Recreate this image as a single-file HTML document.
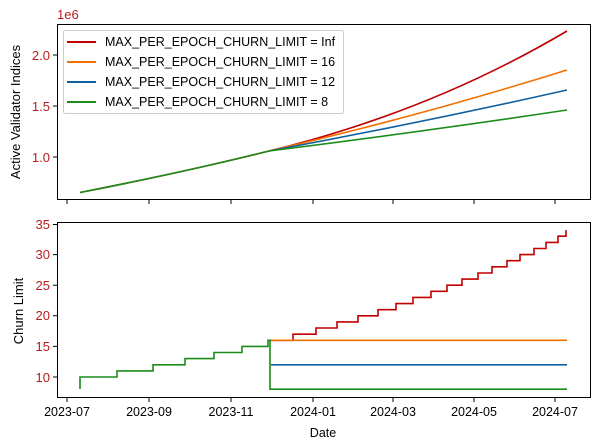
<!DOCTYPE html>
<html><head><style>body{margin:0;background:#fff}svg{display:block}text{font-family:"Liberation Sans",sans-serif}</style></head><body>
<svg width="600" height="448" xmlns="http://www.w3.org/2000/svg">
<rect width="600" height="448" fill="#fff"/>
<g fill="none" stroke-width="1.6">
<path d="M80,192.5 Q185,172 269,151" stroke="#c00000"/>
<path d="M269,151 Q430,112 567,31" stroke="#c00000"/>
<path d="M269,151 Q420,116 567,70" stroke="#f07000"/>
<path d="M269,151 Q420,123 567,90" stroke="#1060a0"/>
<path d="M269,151 Q420,132 567,110" stroke="#1a8c1a"/>
<path d="M80,192.5 Q185,172 269,151" stroke="#1a8c1a"/>
</g>
<rect x="57.5" y="24.5" width="533" height="175" fill="none" stroke="#000" stroke-width="1"/>
<g stroke="#000" stroke-width="1">
<path d="M67,200v4M149,200v4M231,200v4M313,200v4M393,200v4M474,200v4M555,200v4"/>
<path d="M57,55h-4M57,106h-4M57,157h-4"/>
</g>
<g fill="#b81c1c" font-size="13" text-anchor="end">
<text x="50" y="60">2.0</text><text x="50" y="111">1.5</text><text x="50" y="162">1.0</text>
</g>
<text x="57" y="19" fill="#b81c1c" font-size="13">1e6</text>
<text transform="translate(20,112) rotate(-90)" font-size="13" text-anchor="middle">Active Validator Indices</text>
<rect x="63.5" y="30.5" width="280" height="83" rx="2" fill="#fff" stroke="#ccc"/>
<g stroke-width="2">
<path d="M67,42h29" stroke="#c00000"/><path d="M67,62h29" stroke="#f07000"/>
<path d="M67,82h29" stroke="#1060a0"/><path d="M67,102h29" stroke="#1a8c1a"/>
</g>
<g font-size="12.5">
<text x="105" y="46">MAX_PER_EPOCH_CHURN_LIMIT = Inf</text>
<text x="105" y="66">MAX_PER_EPOCH_CHURN_LIMIT = 16</text>
<text x="105" y="86">MAX_PER_EPOCH_CHURN_LIMIT = 12</text>
<text x="105" y="106">MAX_PER_EPOCH_CHURN_LIMIT = 8</text>
</g>
<g fill="none" stroke-width="1.6">
<path d="M269,340.3 H293 V334.2 H316 V328 H337 V321.9 H358 V315.8 H378 V309.7 H396 V303.6 H413 V297.4 H431 V291.3 H447 V285.2 H462 V279.1 H478 V273 H492 V266.8 H507 V260.7 H520 V254.6 H534 V248.5 H546 V242.4 H558 V236.2 H566 V230.1" stroke="#c00000"/>
<path d="M271,340.3 H567" stroke="#f07000"/>
<path d="M271,364.8 H567" stroke="#1060a0"/>
<path d="M80,389 V377 H117 V370.9 H153 V364.8 H185 V358.6 H214 V352.5 H242 V346.4 H268 V340.3 H270 V389.2 H567" stroke="#1a8c1a"/>
</g>
<rect x="57.5" y="222.5" width="533" height="175" fill="none" stroke="#000" stroke-width="1"/>
<g stroke="#000" stroke-width="1">
<path d="M67,398v4M149,398v4M231,398v4M313,398v4M393,398v4M474,398v4M555,398v4"/>
<path d="M57,224.5h-4M57,254.6h-4M57,285.2h-4M57,315.8h-4M57,346.4h-4M57,377h-4"/>
</g>
<g fill="#b81c1c" font-size="13" text-anchor="end">
<text x="50" y="229">35</text><text x="50" y="259">30</text><text x="50" y="290">25</text>
<text x="50" y="320">20</text><text x="50" y="351">15</text><text x="50" y="382">10</text>
</g>
<g font-size="12.5" text-anchor="middle">
<text x="67" y="416">2023-07</text><text x="149" y="416">2023-09</text><text x="231" y="416">2023-11</text>
<text x="313" y="416">2024-01</text><text x="393" y="416">2024-03</text><text x="474" y="416">2024-05</text>
<text x="555" y="416">2024-07</text>
<text x="323" y="437">Date</text>
</g>
<text transform="translate(23,311) rotate(-90)" font-size="13" text-anchor="middle">Churn Limit</text>
</svg>
</body></html>
